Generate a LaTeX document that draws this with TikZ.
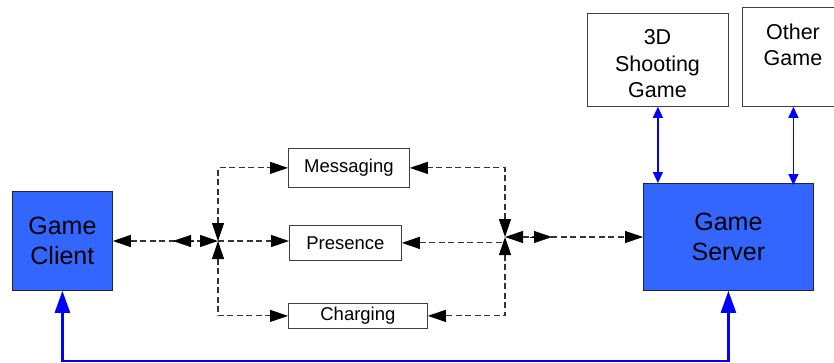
\documentclass[tikz,border=0pt]{standalone}
\usepackage{fontspec}
\setmainfont{Liberation Sans}
\usetikzlibrary{arrows.meta}
\definecolor{gblue}{RGB}{51,102,255}
\definecolor{lineblue}{RGB}{0,0,255}
\begin{document}
\begin{tikzpicture}[x=1pt,y=-1pt,
  bluebox/.style={draw=black!85, fill=gblue, line width=0.8pt, inner sep=0pt, align=center, anchor=north west, font=\fontsize{25}{30}\selectfont},
  whitebox/.style={draw=black!75, fill=white, line width=0.8pt, inner sep=0pt, align=center, anchor=north west},
  smallbox/.style={whitebox, font=\fontsize{18.5}{22}\selectfont},
  gamelabel/.style={inner sep=0pt, align=center, font=\fontsize{21.5}{26.5}\selectfont},
  dashln/.style={draw=black!80, line width=1.1pt, dash pattern=on 6pt off 3.5pt},
  bigtip/.tip={Triangle[length=18pt,width=12pt,color=black]},
  thintip/.tip={Triangle[length=11pt,width=10pt,color=lineblue]},
  thicktip/.tip={Triangle[length=22pt,width=15pt,color=lineblue]},
  bluethin/.style={draw=lineblue, line width=1.2pt},
  bluethick/.style={draw=lineblue, line width=2.4pt},
]
\useasboundingbox (0,0) rectangle (834,362);
\clip (0,0) rectangle (834,362);

% main boxes
\node[bluebox, minimum width=100pt, minimum height=99pt] (client) at (12,191) {Game\\Client};
\node[bluebox, minimum width=170pt, minimum height=107pt] (server) at (643,183) {Game\\Server};

% game boxes
\node[whitebox, minimum width=141pt, minimum height=93pt] (shoot) at (587,13) {};
\node[gamelabel] (shootlbl) at (657.5,64) {3D\\Shooting\\Game};
\node[whitebox, minimum width=102pt, minimum height=99pt] (other) at (742,7) {};
\node[gamelabel] (otherlbl) at (793,45) {Other\\Game};

% service boxes
\node[smallbox, minimum width=121pt, minimum height=39pt] (msg) at (288,148) {Messaging};
\node[smallbox, minimum width=112pt, minimum height=35pt] (pres) at (289,225) {Presence};
\node[smallbox, minimum width=139pt, minimum height=25pt] (chg) at (288,303) {Charging};

% junctions
\coordinate (J1) at (218,241);
\coordinate (J2) at (505,237);
\coordinate (J1a) at (194,241);
\coordinate (J1b) at (173,241);
\coordinate (J2a) at (530,237);
\coordinate (J2b) at (552,237);

% left side dashed connectors
\draw[dashln, {bigtip}-{bigtip}] (client.east |- J1) -- (J1);
\draw[{bigtip}-] (J1b) -- (J1a);
\draw[dashln, {bigtip}-{bigtip}] (J1) |- (msg.west);
\draw[dashln, {bigtip}-{bigtip}] (J1) |- (chg.west);
\draw[dashln, -{bigtip}] (J1) -- (J1 -| pres.west);

% right side dashed connectors
\draw[dashln, {bigtip}-{bigtip}] (J2) |- (msg.east);
\draw[dashln, {bigtip}-{bigtip}] (J2) |- (chg.east);
\draw[dashln, {bigtip}-] (pres.east) -- (pres.east -| J2);
\draw[dashln, {bigtip}-{bigtip}] (J2) -- (J2 -| server.west);
\draw[-{bigtip}] (J2a) -- (J2b);

% blue connectors
\draw[bluethin, {thintip}-{thintip}] (shoot.south) -- (shoot.south |- server.north);
\draw[bluethin, {thintip}-{thintip}] (other.south) -- ([yshift=-2pt]other.south |- server.north);
\draw[bluethick, {thicktip}-{thicktip}] (client.south) -- ++(0,70) -| (server.south);
\end{tikzpicture}
\end{document}
